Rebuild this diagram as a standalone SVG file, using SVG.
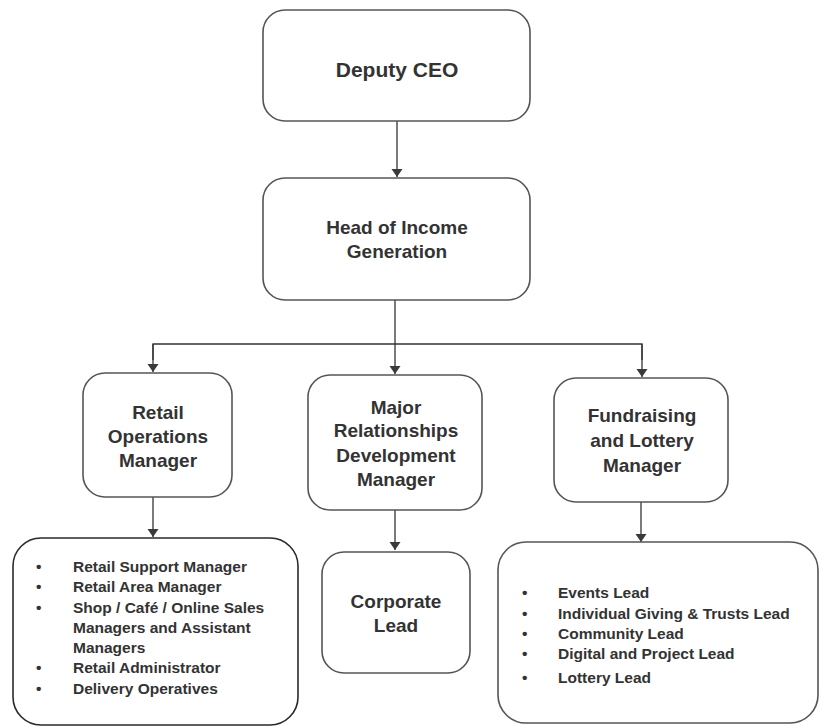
<svg xmlns="http://www.w3.org/2000/svg" width="820" height="726" viewBox="0 0 820 726">
<defs>
<marker id="ah" markerWidth="12" markerHeight="12" refX="8" refY="6" orient="auto" markerUnits="userSpaceOnUse">
<path d="M0,0.5 L8,6 L0,11.5 Z" fill="#3a3a3a"/>
</marker>
<style>
.box{fill:#fff;stroke:#555;stroke-width:1.6}
.lbox{fill:#fff;stroke:#2a2a2a;stroke-width:1.6}
.t{font-family:"Liberation Sans",Arial,sans-serif;font-weight:bold;font-size:19px;fill:#333;text-anchor:middle}
.big{font-size:21px}
.li{font-family:"Liberation Sans",Arial,sans-serif;font-weight:bold;font-size:15.5px;fill:#333}
.c{fill:none;stroke:#333;stroke-width:1.3}
</style>
</defs>
<g id="connectors">
<line class="c" x1="397" y1="121" x2="397" y2="177" marker-end="url(#ah)"/>
<line class="c" x1="395" y1="300" x2="395" y2="374" marker-end="url(#ah)"/>
<polyline class="c" points="153,360 153,344 642,344 642,360"/>
<line class="c" x1="153" y1="344" x2="153" y2="372" marker-end="url(#ah)"/>
<line class="c" x1="642" y1="344" x2="642" y2="377" marker-end="url(#ah)"/>
<line class="c" x1="153" y1="497" x2="153" y2="537" marker-end="url(#ah)"/>
<line class="c" x1="395" y1="510" x2="395" y2="550" marker-end="url(#ah)"/>
<line class="c" x1="641" y1="502" x2="641" y2="542" marker-end="url(#ah)"/>
</g>
<g id="deputy-ceo">
<rect class="box" x="263" y="10" width="267" height="111" rx="22"/>
<text class="t big" x="397" y="77">Deputy CEO</text>
</g>
<g id="head-income">
<rect class="box" x="263" y="178" width="267" height="122" rx="22"/>
<text class="t" x="397" y="234">Head of Income</text>
<text class="t" x="397" y="258">Generation</text>
</g>
<g id="retail-ops">
<rect class="box" x="83" y="373" width="149" height="124" rx="22"/>
<text class="t" x="158" y="419">Retail</text>
<text class="t" x="158" y="443">Operations</text>
<text class="t" x="158" y="467">Manager</text>
</g>
<g id="major-rel">
<rect class="box" x="308" y="375" width="174" height="135" rx="22"/>
<text class="t" x="396" y="414">Major</text>
<text class="t" x="396" y="437">Relationships</text>
<text class="t" x="396" y="462">Development</text>
<text class="t" x="396" y="486">Manager</text>
</g>
<g id="fundraising">
<rect class="box" x="554" y="378" width="174" height="124" rx="22"/>
<text class="t" x="642" y="422">Fundraising</text>
<text class="t" x="642" y="447">and Lottery</text>
<text class="t" x="642" y="472">Manager</text>
</g>
<g id="retail-list">
<rect class="lbox" x="13" y="538" width="285" height="187" rx="28"/>
<g class="li">
<text x="36" y="572">•</text><text x="73" y="572">Retail Support Manager</text>
<text x="36" y="592">•</text><text x="73" y="592">Retail Area Manager</text>
<text x="36" y="613">•</text><text x="73" y="613">Shop / Café / Online Sales</text>
<text x="73" y="633">Managers and Assistant</text>
<text x="73" y="653">Managers</text>
<text x="36" y="673">•</text><text x="73" y="673">Retail Administrator</text>
<text x="36" y="694">•</text><text x="73" y="694">Delivery Operatives</text>
</g>
</g>
<g id="corporate-lead">
<rect class="box" x="322" y="552" width="148" height="121" rx="22"/>
<text class="t" x="396" y="608">Corporate</text>
<text class="t" x="396" y="632">Lead</text>
</g>
<g id="fundraising-list">
<rect class="box" x="498" y="542" width="320" height="181" rx="28"/>
<g class="li">
<text x="522" y="598">•</text><text x="558" y="598">Events Lead</text>
<text x="522" y="619">•</text><text x="558" y="619">Individual Giving &amp; Trusts Lead</text>
<text x="522" y="639">•</text><text x="558" y="639">Community Lead</text>
<text x="522" y="659">•</text><text x="558" y="659">Digital and Project Lead</text>
<text x="522" y="683">•</text><text x="558" y="683">Lottery Lead</text>
</g>
</g>
</svg>
